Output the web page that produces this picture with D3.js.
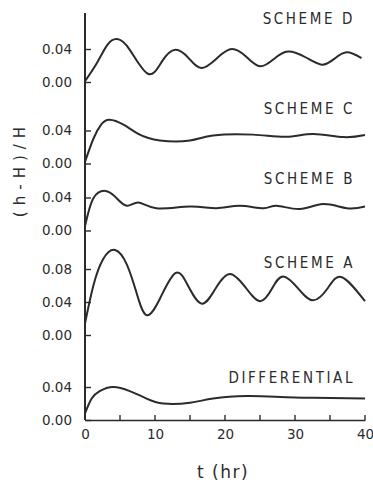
<!DOCTYPE html>
<html>
<head>
<meta charset="utf-8">
<script src="https://cdn.jsdelivr.net/npm/d3@7/dist/d3.min.js"></script>
<style>
  body { margin: 0; background: #fff; }
  svg text { font-family: "DejaVu Sans", sans-serif; fill: #2b2b2b; }
</style>
</head>
<body>
<div id="chart"></div>
<script>
// ---- data ----
const xTicks = [0, 10, 20, 30, 40];
const xMinorTicks = [5, 15, 25, 35];
const panelNames = ["SCHEME D", "SCHEME C", "SCHEME B", "SCHEME A", "DIFFERENTIAL"];
const panelTicks = [[0, 0.04], [0, 0.04], [0, 0.04], [0, 0.04, 0.08], [0, 0.04]];

const tD = [0, 1.7, 3.2, 4.6, 6.4, 9.0, 11.0, 12.9, 14.8, 16.7, 19.0, 21.0, 23.0, 25.0, 27.0, 29.0, 31.5, 33.8, 35.6, 37.4, 39.5];
const vD = [0.001, 0.023, 0.045, 0.052, 0.039, 0.010, 0.025, 0.039, 0.029, 0.017, 0.030, 0.040, 0.031, 0.019, 0.028, 0.037, 0.030, 0.021, 0.028, 0.036, 0.029];

const tC = [0, 1.2, 2.3, 3.5, 5.5, 7.6, 10.7, 15.0, 18.3, 24.0, 28.8, 32.6, 36.9, 40];
const vC = [0.002, 0.030, 0.047, 0.053, 0.047, 0.036, 0.028, 0.028, 0.034, 0.035, 0.0325, 0.0357, 0.032, 0.0345];

const tB = [0, 1.2, 2.9, 4.3, 5.95, 7.6, 10.2, 15.0, 18.8, 22.1, 25.5, 27.4, 30.7, 34.0, 37.4, 40];
const vB = [0.005, 0.039, 0.048, 0.041, 0.030, 0.034, 0.027, 0.029, 0.027, 0.030, 0.027, 0.030, 0.026, 0.032, 0.027, 0.029];

const tA = [0, 1.2, 2.6, 4.3, 6.0, 7.4, 8.8, 10.7, 12.9, 14.7, 16.7, 18.7, 20.7, 22.9, 25.0, 26.7, 28.3, 30.5, 32.6, 34.7, 36.7, 40];
const vA = [0.014, 0.060, 0.092, 0.103, 0.085, 0.050, 0.024, 0.044, 0.075, 0.060, 0.038, 0.057, 0.074, 0.058, 0.041, 0.056, 0.071, 0.056, 0.042, 0.057, 0.070, 0.041];

const tDiff = [0, 0.95, 2.1, 4.0, 6.4, 8.8, 11.2, 15.0, 18.3, 23.1, 27.9, 32.6, 40];
const vDiff = [0.008, 0.026, 0.035, 0.040, 0.035, 0.026, 0.020, 0.021, 0.026, 0.029, 0.028, 0.027, 0.026];

const panelSeries = [[tD, vD], [tC, vC], [tB, vB], [tA, vA], [tDiff, vDiff]];

// ---- layout ----
const width = 373, height = 488;
const zeroY = [82, 163.5, 230.5, 335, 420];   // pixel row of 0.00 in each panel
const pxPerUnit = 825;
const labelY = [18, 108, 178, 262, 377];

const svg = d3.select("#chart").append("svg")
    .attr("width", width)
    .attr("height", height);

const x = d3.scaleLinear().domain([0, 40]).range([85, 365]);

const ink = "#2b2b2b";

// y axis line
svg.append("line")
    .attr("x1", x(0)).attr("x2", x(0))
    .attr("y1", 13).attr("y2", zeroY[4])
    .attr("stroke", ink).attr("stroke-width", 2);

// x axis
const xAxis = d3.axisBottom(x)
    .tickValues(xTicks)
    .tickSize(0)
    .tickPadding(9)
    .tickFormat(d3.format("d"));
const xg = svg.append("g")
    .attr("transform", `translate(0, ${zeroY[4]})`)
    .call(xAxis);
xg.select(".domain").attr("stroke", ink).attr("stroke-width", 1.6);
xg.selectAll("text").attr("font-size", 13.5).style("font-family", "DejaVu Sans, sans-serif").attr("fill", ink);

// upward tick marks every 5 hr
svg.append("g").selectAll("line")
    .data(xTicks.concat(xMinorTicks).filter(d => d > 0))
    .enter().append("line")
    .attr("x1", d => x(d)).attr("x2", d => x(d))
    .attr("y1", zeroY[4]).attr("y2", zeroY[4] - 5)
    .attr("stroke", ink).attr("stroke-width", 1.4);

const line = d3.line().curve(d3.curveNatural);

panelNames.forEach((name, i) => {
    const ticks = panelTicks[i];
    const top = d3.max(ticks);
    const y = d3.scaleLinear()
        .domain([0, top])
        .range([zeroY[i], zeroY[i] - top * pxPerUnit]);

    // y ticks (inward) and labels
    const yAxis = d3.axisLeft(y)
        .tickValues(ticks)
        .tickSize(-6)
        .tickPadding(13)
        .tickFormat(d3.format(".2f"));
    const g = svg.append("g")
        .attr("transform", `translate(${x(0)}, 0)`)
        .call(yAxis);
    g.select(".domain").remove();
    g.selectAll(".tick line").attr("stroke", ink).attr("stroke-width", 1.4);
    g.selectAll("text")
        .attr("font-size", 13.5)
        .style("font-family", "DejaVu Sans, sans-serif")
        .attr("fill", ink);

    // curve
    const [ts, vs] = panelSeries[i];
    svg.append("path")
        .datum(ts.map((t, k) => [x(t), y(vs[k])]))
        .attr("d", line)
        .attr("fill", "none")
        .attr("stroke", ink)
        .attr("stroke-width", 2);

    // panel label
    svg.append("text")
        .attr("x", 355)
        .attr("y", labelY[i] + 5.5)
        .attr("text-anchor", "end")
        .style("font-family", "'DejaVu Sans Condensed', 'DejaVu Sans', sans-serif")
        .attr("font-size", 15)
        .attr("letter-spacing", 2.6)
        .text(name);
});

// axis titles
svg.append("text")
    .attr("transform", `translate(25, 169) rotate(-90)`)
    .attr("text-anchor", "middle")
    .attr("font-size", 15)
    .attr("letter-spacing", 6)
    .text("(h-H)/H");

svg.append("text")
    .attr("x", 223)
    .attr("y", 478)
    .attr("text-anchor", "middle")
    .attr("font-size", 17)
    .attr("letter-spacing", 1.5)
    .text("t (hr)");
</script>
</body>
</html>
